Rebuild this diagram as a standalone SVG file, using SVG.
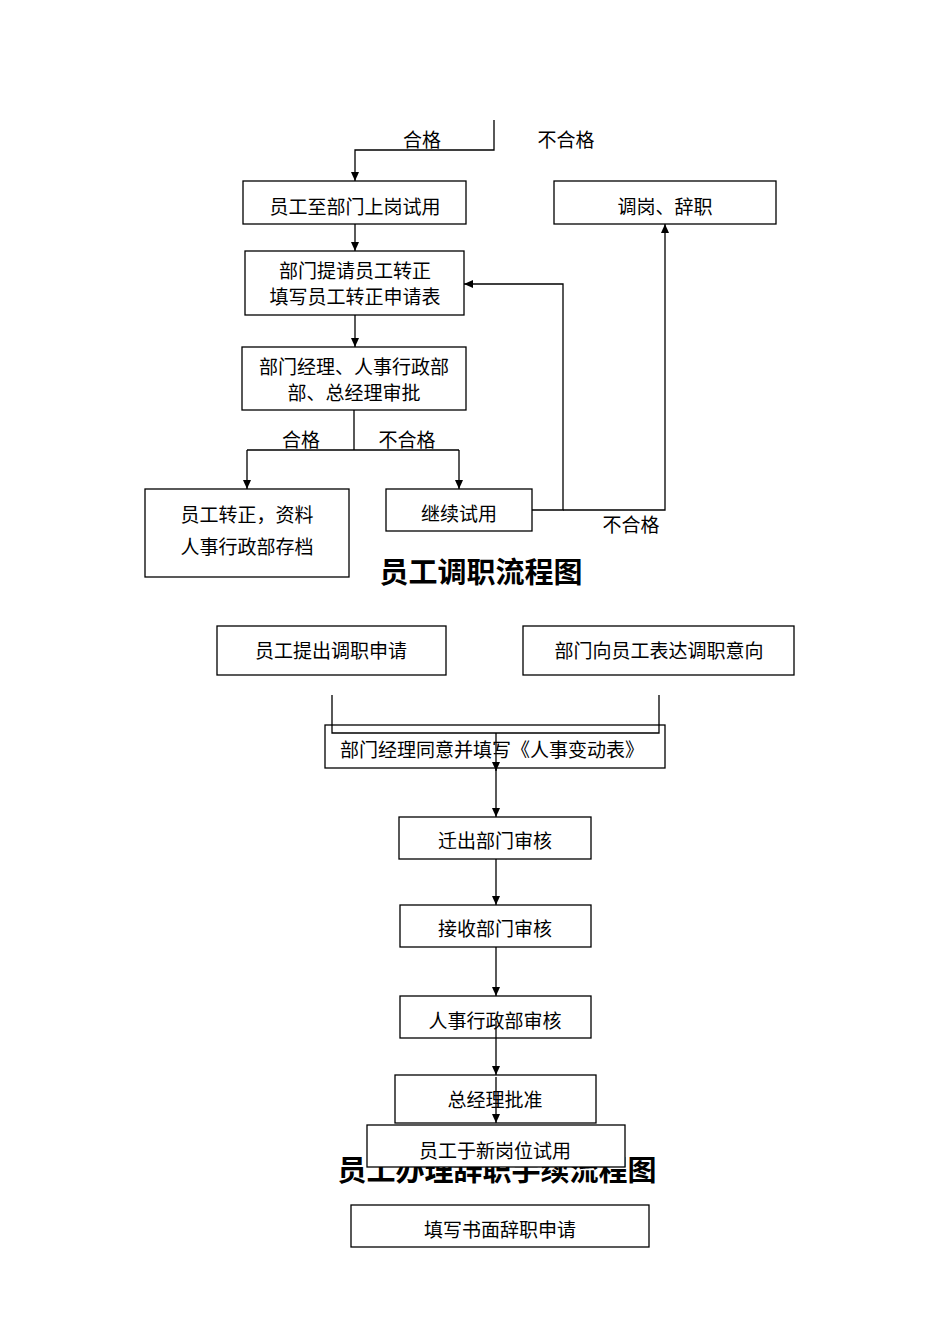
<svg xmlns="http://www.w3.org/2000/svg" width="950" height="1344" viewBox="0 0 950 1344">
<style>
.b{fill:#fff;stroke:#000;stroke-width:1.3}
.t{font-family:"Noto Sans CJK SC","Liberation Sans",sans-serif;font-size:19px;text-anchor:middle;fill:#000}
.h{font-family:"Noto Sans CJK SC","Liberation Sans",sans-serif;font-size:29px;font-weight:bold;text-anchor:middle;fill:#000}
.c{fill:none;stroke:#000;stroke-width:1.3}
</style>
<defs><marker id="a" markerWidth="10" markerHeight="10" refX="9" refY="5" orient="auto" markerUnits="userSpaceOnUse"><path d="M0,1 L9,5 L0,9 Z" fill="#000"/></marker></defs>
<rect width="950" height="1344" fill="#fff"/>
<text class="h" x="481" y="583">员工调职流程图</text>
<text class="h" x="497" y="1181">员工办理辞职手续流程图</text>
<g id="connectors">
<path class="c" d="M494,120 V150 H355 V181" marker-end="url(#a)"/>
<path class="c" d="M355,224 V251" marker-end="url(#a)"/>
<path class="c" d="M355,315 V347" marker-end="url(#a)"/>
<path class="c" d="M354,410 V450 M247,450 H459"/>
<path class="c" d="M247,450 V489" marker-end="url(#a)"/>
<path class="c" d="M459,450 V489" marker-end="url(#a)"/>
<path class="c" d="M532,510 H563 V284 H464" marker-end="url(#a)"/>
<path class="c" d="M563,510 H665 V224" marker-end="url(#a)"/>
<text class="t" x="422" y="147">合格</text>
<text class="t" x="566" y="147">不合格</text>
<text class="t" x="301" y="447">合格</text>
<text class="t" x="407" y="447">不合格</text>
<text class="t" x="631" y="532">不合格</text>
</g>
<g id="n1"><rect class="b" x="243" y="181" width="223" height="43"/><text class="t" x="355" y="214">员工至部门上岗试用</text></g>
<g id="n2"><rect class="b" x="554" y="181" width="222" height="43"/><text class="t" x="665" y="214">调岗、辞职</text></g>
<g id="n3"><rect class="b" x="245" y="251" width="219" height="64"/><text class="t" x="355" y="278">部门提请员工转正</text><text class="t" x="355" y="304">填写员工转正申请表</text></g>
<g id="n4"><rect class="b" x="242" y="347" width="224" height="63"/><text class="t" x="354" y="374">部门经理、人事行政部</text><text class="t" x="354" y="400">部、总经理审批</text></g>
<g id="n5"><rect class="b" x="145" y="489" width="204" height="88"/><text class="t" x="247" y="522">员工转正，资料</text><text class="t" x="247" y="554">人事行政部存档</text></g>
<g id="n6"><rect class="b" x="386" y="489" width="146" height="42"/><text class="t" x="459" y="521">继续试用</text></g>
<g id="m1"><rect class="b" x="217" y="626" width="229" height="49"/><text class="t" x="331" y="658">员工提出调职申请</text></g>
<g id="m2"><rect class="b" x="523" y="626" width="271" height="49"/><text class="t" x="659" y="658">部门向员工表达调职意向</text></g>
<g id="m3"><rect class="b" x="325" y="725" width="340" height="43"/><text class="t" x="492" y="757">部门经理同意并填写《人事变动表》</text></g>
<g id="m4"><rect class="b" x="399" y="817" width="192" height="42"/><text class="t" x="495" y="848">迁出部门审核</text></g>
<g id="m5"><rect class="b" x="400" y="905" width="191" height="42"/><text class="t" x="495" y="936">接收部门审核</text></g>
<g id="m6"><rect class="b" x="400" y="996" width="191" height="42"/><text class="t" x="495" y="1028">人事行政部审核</text></g>
<g id="m7"><rect class="b" x="395" y="1075" width="201" height="48"/><text class="t" x="495" y="1107">总经理批准</text></g>
<g id="m8"><rect class="b" x="367" y="1125" width="258" height="42"/><text class="t" x="495" y="1158">员工于新岗位试用</text></g>
<g id="m9"><rect class="b" x="351" y="1205" width="298" height="42"/><text class="t" x="500" y="1237">填写书面辞职申请</text></g>
<g id="connectors2">
<path class="c" d="M332,695 V733 H659 V695"/>
<path class="c" d="M496,733 V771" marker-end="url(#a)"/>
<path class="c" d="M496,768 V817" marker-end="url(#a)"/>
<path class="c" d="M496,859 V905" marker-end="url(#a)"/>
<path class="c" d="M496,947 V996" marker-end="url(#a)"/>
<path class="c" d="M496,1021 V1075" marker-end="url(#a)"/>
<path class="c" d="M496,1077 V1123" marker-end="url(#a)"/>
</g>
</svg>
